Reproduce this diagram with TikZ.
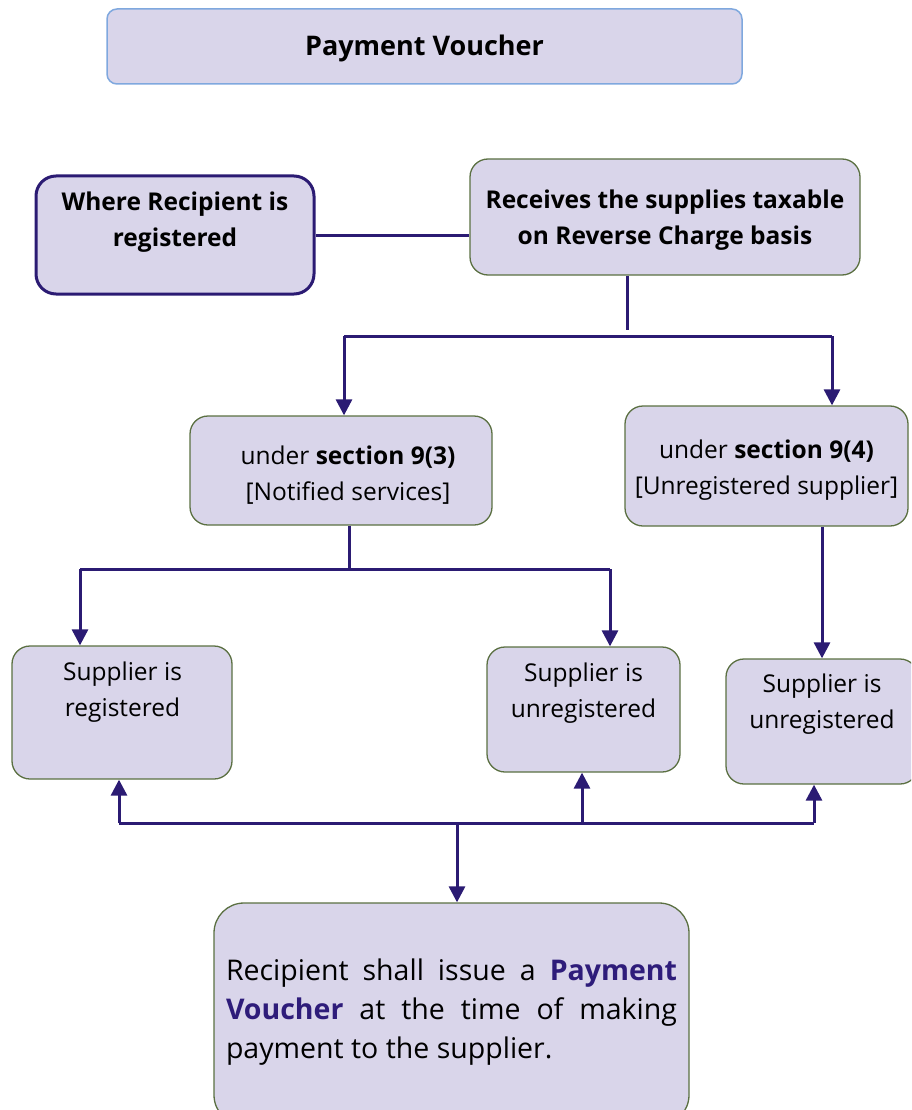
\documentclass[tikz,border=0pt]{standalone}
\usepackage{fontspec}
\setmainfont{Open Sans}
\usetikzlibrary{arrows.meta}
\definecolor{boxfill}{HTML}{D9D5EA}
\definecolor{linec}{HTML}{2B1B73}
\definecolor{greenb}{HTML}{5B7042}
\definecolor{blueb}{HTML}{7FA8DE}
\definecolor{accent}{HTML}{2E1C7A}
\begin{document}
\begin{tikzpicture}[x=1pt,y=-1pt,
  box/.style={draw=greenb, line width=1.3pt, fill=boxfill, rounded corners=18pt, inner sep=0pt},
  titlebox/.style={draw=blueb, line width=1.5pt, fill=boxfill, rounded corners=10pt, inner sep=0pt},
  keybox/.style={draw=linec, line width=3pt, fill=boxfill, rounded corners=20pt, inner sep=0pt},
  txt/.style={align=center, inner sep=0pt, font=\fontsize{24.5}{36}\selectfont},
  btxt/.style={align=center, inner sep=0pt, font=\fontsize{24.5}{36}\selectfont\bfseries},
  conn/.style={draw=linec, line width=3pt},
  arr/.style={conn, -{Triangle[width=16pt,length=16pt]}}]
\useasboundingbox (0,0) rectangle (911,1110);
\clip (0,0) rectangle (911,1110);

% boxes
\node[titlebox, minimum width=635pt, minimum height=75pt] (title) at (424.5,46.5) {};
\node[btxt, font=\fontsize{27}{30}\selectfont\bfseries] (titlet) at (424.5,48) {Payment Voucher};

\node[keybox, minimum width=278pt, minimum height=118pt] (wr) at (175,235) {};
\node[btxt] (wrt) at (175,222) {Where Recipient is\\registered};

\node[box, minimum width=390pt, minimum height=116pt] (rc) at (665,217) {};
\node[btxt] (rct) at (665,220) {Receives the supplies taxable\\on Reverse Charge basis};

\node[box, minimum width=302pt, minimum height=109pt] (s93) at (341,470.5) {};
\node[txt] (s93t) at (348,475) {under \textbf{section 9(3)}\\{}[Notified services]};

\node[box, minimum width=283pt, minimum height=120pt] (s94) at (766.5,466) {};
\node[txt] (s94t) at (766.5,470) {under \textbf{section 9(4)}\\{}[Unregistered supplier]};

\node[box, minimum width=220pt, minimum height=133pt] (sr) at (122,712.5) {};
\node[txt] (srt) at (122.5,692) {Supplier is\\registered};

\node[box, minimum width=193pt, minimum height=125pt] (su1) at (583.5,709.5) {};
\node[txt] (su1t) at (583.5,693) {Supplier is\\unregistered};

\node[box, minimum width=192pt, minimum height=125pt] (su2) at (822,721.5) {};
\node[txt] (su2t) at (822,704) {Supplier is\\unregistered};

\node[box, rounded corners=30pt, minimum width=475pt, minimum height=222pt] (pv) at (451.5,1014) {};
\node[inner sep=0pt, text width=451pt, align=justify, font=\fontsize{28.5}{39}\selectfont] (pvt) at (451.5,1012)
  {Recipient shall issue a \textbf{\color{accent}Payment}\linebreak
   \textbf{\color{accent}Voucher} at the time of making\linebreak
   payment to the supplier.};

% junctions
\coordinate (j1) at (627,330);
\coordinate (hl) at (344,336);
\coordinate (hr) at (832,336);
\coordinate (j2) at (349,569);
\coordinate (ml) at (80,569);
\coordinate (mr) at (610,569);
\coordinate (bl) at (119,823);
\coordinate (bm) at (582,823);
\coordinate (br) at (814,823);
\coordinate (bd) at (457,823);

% connectors
\draw[conn] (wr.east) -- (wr.east -| rc.west);
\draw[conn] (rc.south -| j1) -- (j1);
\draw[conn] (hl) -- (hr);
\draw[arr] (hl) -- (s93.north -| hl);
\draw[arr] (hr) -- (s94.north -| hr);

\draw[conn] (s93.south -| j2) -- (j2);
\draw[conn] (ml) -- (mr);
\draw[arr] (ml) -- (sr.north -| ml);
\draw[arr] (mr) -- (su1.north -| mr);
\draw[arr] (s94.south -| su2) -- (su2.north);

\draw[conn] (bl) -- (br);
\draw[arr] (bl) -- (sr.south -| bl);
\draw[arr] (bm) -- (su1.south -| bm);
\draw[arr] (br) -- (su2.south -| br);
\draw[arr] (bd) -- (pv.north -| bd);
\end{tikzpicture}
\end{document}
